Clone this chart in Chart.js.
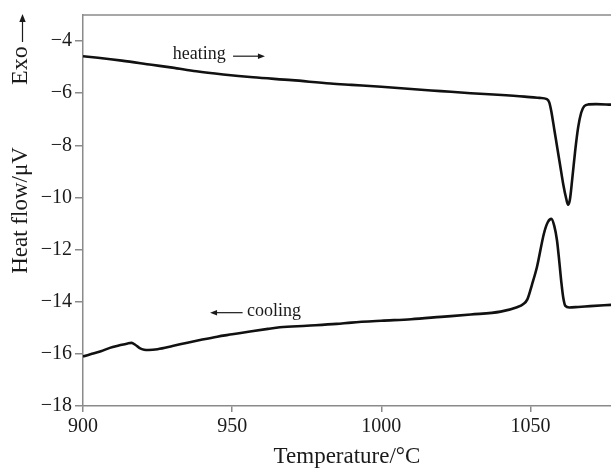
<!DOCTYPE html>
<html>
<head>
<meta charset="utf-8">
<script src="https://cdn.jsdelivr.net/npm/chart.js@4/dist/chart.umd.min.js"></script>
<style>
  html, body { margin: 0; padding: 0; background: #ffffff; }
  #wrap { width: 611px; height: 468px; }
</style>
</head>
<body>
<div id="wrap"><canvas id="c" width="611" height="468"></canvas></div>
<script>
// ---- data ----
const heatingT = [900, 905, 913, 923, 930, 938, 947, 957, 970, 983, 990, 1000, 1010, 1020, 1030, 1039, 1048, 1053, 1055.5, 1056.3, 1057, 1058, 1059, 1060, 1061, 1062, 1062.6, 1063.2, 1064, 1065, 1066, 1067, 1068, 1069.5, 1072, 1077];
const heatingV = [-4.58, -4.64, -4.75, -4.91, -5.02, -5.16, -5.28, -5.39, -5.50, -5.63, -5.68, -5.75, -5.84, -5.92, -6.00, -6.06, -6.13, -6.18, -6.23, -6.35, -6.70, -7.40, -8.10, -8.80, -9.50, -10.05, -10.28, -10.10, -9.30, -8.20, -7.30, -6.75, -6.50, -6.43, -6.42, -6.44];

const coolingT = [900, 903, 906, 909, 912, 915, 916.3, 917.5, 919, 920.5, 922, 925, 930, 935, 940, 945, 950, 956, 962, 966, 975, 985, 990, 1000, 1010, 1020, 1030, 1040, 1045.5, 1047.5, 1049, 1050.5, 1052.2, 1054.5, 1055.8, 1057, 1058, 1058.9, 1059.7, 1060.4, 1061, 1061.7, 1063, 1066, 1070, 1077];
const coolingV = [-16.10, -16.00, -15.90, -15.77, -15.68, -15.60, -15.58, -15.65, -15.78, -15.84, -15.85, -15.82, -15.70, -15.57, -15.45, -15.34, -15.25, -15.14, -15.04, -14.98, -14.92, -14.85, -14.80, -14.73, -14.67, -14.58, -14.49, -14.38, -14.21, -14.10, -13.90, -13.35, -12.66, -11.39, -10.95, -10.82, -11.10, -11.65, -12.50, -13.30, -13.85, -14.16, -14.22, -14.20, -14.17, -14.12];

const xRange = [900, 1077];
const yRange = [-18, -3];
const xStep = 50;
const yStep = 2;

const xTitle = 'Temperature/°C';
const yTitle = 'Heat flow/μV';
const exoLabel = 'Exo';
const heatLabel = 'heating';
const coolLabel = 'cooling';

const toPts = (xs, ys) => xs.map((x, i) => ({ x: x, y: ys[i] }));

const SERIF = '"Liberation Serif", "DejaVu Serif", serif';
const AXIS_COLOR = '#8a8a8a';
const TEXT_COLOR = '#1a1a1a';

function arrow(ctx, x1, y1, x2, y2, head) {
  const ang = Math.atan2(y2 - y1, x2 - x1);
  ctx.beginPath();
  ctx.moveTo(x1, y1);
  ctx.lineTo(x2 - Math.cos(ang) * head * 0.8, y2 - Math.sin(ang) * head * 0.8);
  ctx.stroke();
  ctx.beginPath();
  ctx.moveTo(x2, y2);
  ctx.lineTo(x2 - Math.cos(ang) * head - Math.sin(ang) * head * 0.4, y2 - Math.sin(ang) * head + Math.cos(ang) * head * 0.4);
  ctx.lineTo(x2 - Math.cos(ang) * head + Math.sin(ang) * head * 0.4, y2 - Math.sin(ang) * head - Math.cos(ang) * head * 0.4);
  ctx.closePath();
  ctx.fill();
}

const decor = {
  id: 'decor',
  afterDraw(chart) {
    const { ctx, chartArea, scales } = chart;
    const xs = scales.x, ys = scales.y;
    ctx.save();
    // top frame line
    ctx.strokeStyle = AXIS_COLOR;
    ctx.lineWidth = 1.5;
    ctx.beginPath();
    ctx.moveTo(chartArea.left, chartArea.top);
    ctx.lineTo(chartArea.right, chartArea.top);
    ctx.stroke();

    ctx.fillStyle = TEXT_COLOR;
    ctx.strokeStyle = TEXT_COLOR;
    ctx.lineWidth = 1.2;

    // heating label + arrow
    ctx.font = '18px ' + SERIF;
    ctx.textBaseline = 'middle';
    ctx.textAlign = 'left';
    ctx.fillText(heatLabel, xs.getPixelForValue(930.1), ys.getPixelForValue(-4.52));
    arrow(ctx, xs.getPixelForValue(950.3), ys.getPixelForValue(-4.58),
               xs.getPixelForValue(961.0), ys.getPixelForValue(-4.58), 7);

    // cooling label + arrow
    ctx.fillText(coolLabel, xs.getPixelForValue(955.0), ys.getPixelForValue(-14.38));
    arrow(ctx, xs.getPixelForValue(953.5), ys.getPixelForValue(-14.42),
               xs.getPixelForValue(942.6), ys.getPixelForValue(-14.42), 7);

    // Exo with upward arrow (rotated)
    ctx.save();
    ctx.translate(21, 85);
    ctx.rotate(-Math.PI / 2);
    ctx.font = '24px ' + SERIF;
    ctx.textAlign = 'left';
    ctx.textBaseline = 'middle';
    ctx.fillText(exoLabel, 0, 0);
    ctx.restore();
    arrow(ctx, 22.5, 42, 22.5, 14, 8);

    ctx.restore();
  }
};

new Chart(document.getElementById('c'), {
  type: 'line',
  data: {
    datasets: [
      { label: 'heating', data: toPts(heatingT, heatingV) },
      { label: 'cooling', data: toPts(coolingT, coolingV) }
    ]
  },
  options: {
    responsive: false,
    animation: false,
    parsing: true,
    layout: { padding: { left: 0, right: 0, top: 13, bottom: 0 } },
    elements: {
      point: { radius: 0 },
      line: { borderColor: '#111111', borderWidth: 2.6, cubicInterpolationMode: 'monotone', fill: false }
    },
    plugins: { legend: { display: false }, tooltip: { enabled: false } },
    scales: {
      x: {
        type: 'linear',
        min: xRange[0], max: xRange[1],
        afterFit(s) { s.height = 62; },
        grid: { drawOnChartArea: false, drawTicks: true, tickLength: 6, color: AXIS_COLOR, lineWidth: 1.5 },
        border: { display: true, color: AXIS_COLOR, width: 1.5 },
        ticks: {
          stepSize: xStep, includeBounds: false, maxRotation: 0, padding: 3,
          color: TEXT_COLOR, font: { family: SERIF, size: 20 },
          callback: v => String(v)
        },
        title: {
          display: true, text: xTitle, color: TEXT_COLOR,
          font: { family: SERIF, size: 23, lineHeight: 1 },
          padding: { top: 0, bottom: 0 }
        }
      },
      y: {
        type: 'linear',
        min: yRange[0], max: yRange[1],
        afterFit(s) { s.width = 83; },
        grid: { drawOnChartArea: false, drawTicks: true, tickLength: 8, color: AXIS_COLOR, lineWidth: 1.5 },
        border: { display: true, color: AXIS_COLOR, width: 1.5 },
        ticks: {
          stepSize: yStep, includeBounds: false, padding: 3,
          color: TEXT_COLOR, font: { family: SERIF, size: 20 },
          callback: v => String(v).replace('-', '\u2212')
        },
        title: {
          display: true, text: yTitle, color: TEXT_COLOR,
          font: { family: SERIF, size: 23, lineHeight: 1 },
          padding: { top: 9, bottom: 0 }
        }
      }
    }
  },
  plugins: [decor]
});
</script>
</body>
</html>
